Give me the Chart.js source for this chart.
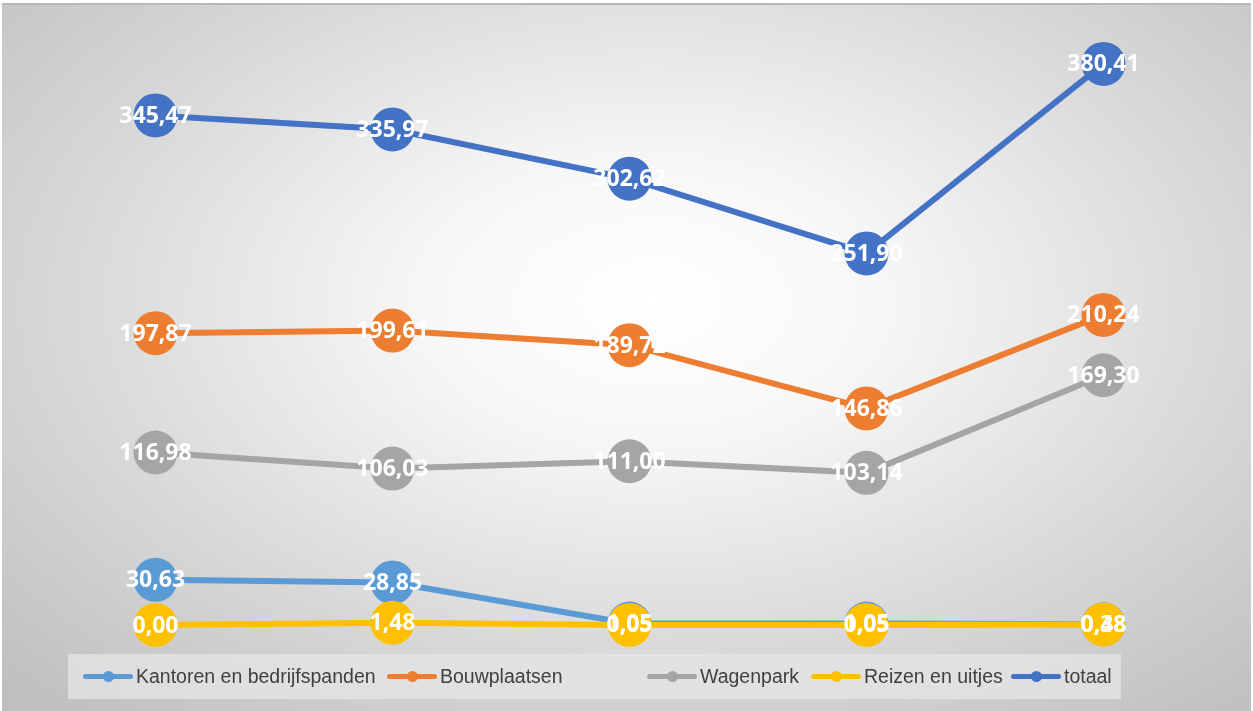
<!DOCTYPE html>
<html>
<head>
<meta charset="utf-8">
<script src="https://cdn.jsdelivr.net/npm/chart.js@4.4.0/dist/chart.umd.min.js"></script>
<style>
    html, body { margin: 0; padding: 0; }
    body { width: 1253px; height: 711px; overflow: hidden; background: #ffffff; }
    .frame {
        position: absolute; left: 2px; top: 3px; width: 1249px; height: 706px;
        border-top: 2px solid #b8b8b8;
        background: radial-gradient(ellipse 72% 78% at 52% 42%, #ffffff 0%, #f7f7f7 25%, #d8d8d8 65%, #bfbfbf 100%);
    }
    canvas { position: absolute; left: 0; top: 0; }
    .legend {
        position: absolute; left: 68px; top: 654px; width: 1053px; height: 45px;
        background: rgba(230, 230, 230, 0.75);
        font-family: "Liberation Sans", Arial, sans-serif; font-size: 19.5px; color: #404040;
    }
    .legend .item { position: absolute; top: 0; height: 45px; line-height: 45px; white-space: nowrap; }
    .legend .line { position: absolute; top: 20px; width: 50px; height: 5px; border-radius: 3px; }
    .legend .dot { position: absolute; top: 17px; left: 20px; width: 11px; height: 11px; border-radius: 50%; }
    .legend .label { position: absolute; left: 53px; top: 0; }
</style>
</head>
<body>
<div class="frame"></div>
<canvas id="chart" width="1253" height="711"></canvas>
<div class="legend" id="legend"></div>
<script>
const categories = ['2019', '2020', '2021', '2022', '2023'];
const seriesNames = ['Kantoren en bedrijfspanden', 'Bouwplaatsen', 'Wagenpark', 'Reizen en uitjes', 'totaal'];
const kantoren = [30.63, 28.85, 1.05, 1.05, 0.48];
const bouwplaatsen = [197.87, 199.61, 189.72, 146.86, 210.24];
const wagenpark = [116.98, 106.03, 111.00, 103.14, 169.30];
const reizen = [0.00, 1.48, 0.05, 0.05, 0.38];
const totaal = [345.47, 335.97, 302.62, 251.90, 380.41];
const colors = ['#5B9BD5', '#ED7D31', '#A5A5A5', '#FFC000', '#4472C4'];
const legendLeft = [15, 319, 579, 743, 943];

const allValues = [kantoren, bouwplaatsen, wagenpark, reizen, totaal];

// white value labels centred on each marker
const valueLabels = {
    id: 'valueLabels',
    afterDatasetsDraw(chart) {
        const ctx = chart.ctx;
        ctx.save();
        ctx.font = 'bold 23px "Open Sans", sans-serif';
        ctx.fillStyle = '#ffffff';
        ctx.textAlign = 'center';
        ctx.textBaseline = 'middle';
        chart.data.datasets.forEach((ds, i) => {
            chart.getDatasetMeta(i).data.forEach((pt, j) => {
                ctx.fillText(ds.data[j].toFixed(2).replace('.', ','), pt.x, pt.y + 1);
            });
        });
        ctx.restore();
    }
};

const datasets = allValues.map((vals, i) => ({
    label: seriesNames[i],
    data: vals,
    borderColor: colors[i],
    backgroundColor: colors[i],
    pointBackgroundColor: colors[i],
    pointBorderColor: colors[i],
    borderWidth: 6,
    pointRadius: 22,
    pointBorderWidth: 0,
    tension: 0,
    clip: false,
    order: 5 - i
}));

const ctx = document.getElementById('chart').getContext('2d');
const chart = new Chart(ctx, {
    type: 'line',
    data: { labels: categories, datasets: datasets },
    options: {
        responsive: false,
        animation: false,
        layout: { padding: { left: 37, right: 31, top: 35, bottom: 86 } },
        plugins: {
            legend: { display: false },
            tooltip: { enabled: false }
        },
        scales: {
            x: { display: false, offset: true },
            y: { display: false, min: 0, max: 400 }
        }
    },
    plugins: [valueLabels]
});

// legend built from the datasets
const legendEl = document.getElementById('legend');
chart.data.datasets.forEach((ds, i) => {
    const item = document.createElement('div');
    item.className = 'item';
    item.style.left = legendLeft[i] + 'px';
    item.innerHTML = '<span class="line" style="background:' + ds.borderColor + '"></span>' +
        '<span class="dot" style="background:' + ds.borderColor + '"></span>' +
        '<span class="label">' + ds.label + '</span>';
    legendEl.appendChild(item);
});
</script>
</body>
</html>
